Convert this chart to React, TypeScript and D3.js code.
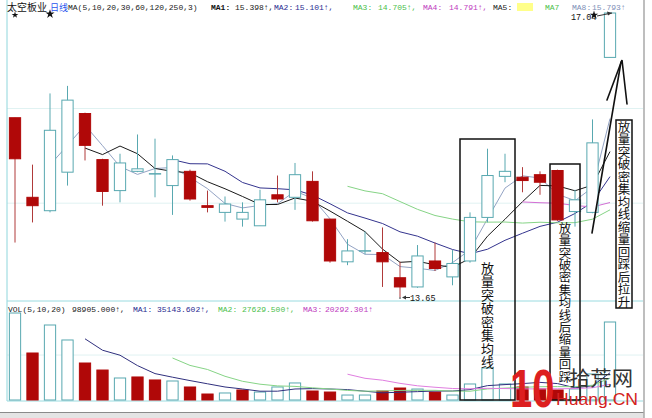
import React from 'react'
import * as d3 from 'd3'

// 日线 K 线数据
const opens = [15.79, 14.84, 14.68, 15.14, 15.84, 15.29, 14.92, 15.15, 15.12, 14.98, 15.15, 14.74, 14.66, 14.58, 14.5, 14.87, 14.84, 15.03, 14.58, 14.07, 14.2, 14.18, 13.88, 13.77, 14.08, 13.89, 14.08, 14.6, 15.09, 15.08, 15.11, 15.16, 14.67, 14.66, 16.51]
const highs = [15.79, 15.23, 16.08, 16.17, 15.85, 15.3, 15.36, 15.59, 15.54, 15.34, 15.17, 14.92, 14.85, 14.78, 14.93, 15.1, 15.25, 15.15, 14.58, 14.34, 14.43, 14.48, 14.07, 14.27, 14.3, 14.21, 14.66, 15.42, 15.36, 15.2, 15.15, 15.17, 14.93, 15.77, 17.04]
const lows = [14.3, 14.54, 14.66, 14.98, 15.28, 14.74, 14.78, 15.14, 14.84, 14.63, 14.8, 14.66, 14.55, 14.49, 14.5, 14.78, 14.69, 14.55, 14.06, 14.03, 14.16, 13.77, 13.65, 13.76, 13.96, 13.79, 14.06, 14.54, 15.02, 14.9, 14.87, 14.56, 14.49, 14.65, 16.51]
const closes = [15.3, 14.74, 15.64, 16.0, 15.46, 14.91, 15.25, 15.18, 15.12, 15.29, 14.82, 14.72, 14.76, 14.66, 14.81, 14.82, 15.11, 14.56, 14.08, 14.2, 14.2, 14.07, 13.77, 14.14, 13.99, 14.05, 14.6, 15.1, 15.15, 15.04, 15.02, 14.57, 14.81, 15.49, 17.04]
const volumes = [110300, 59600, 95100, 76100, 46900, 38000, 27900, 29200, 25400, 24100, 16500, 7600, 8900, 12700, 10100, 16500, 21600, 11400, 10100, 6300, 6300, 11400, 15200, 13900, 10100, 6300, 20300, 40600, 20300, 16500, 14000, 12700, 14000, 33000, 98905]

// 均线周期和颜色
const priceMaPeriods = [3, 5, 10, 20, 30]
const priceMaColors = ['#93a3c4', '#1a1a1a', '#34348e', '#86d486', '#d46ed4']
const volMaPeriods = [5, 10, 20]
const volMaColors = ['#30307e', '#86d486', '#e07ee0']

const priceGrid = [14.77, 15.9]
const volGrid = [57000]

const note1 = '放量突破密集均线'
const note2 = '放量突破密集均线后缩量回踩'
const note3 = '放量突破密集均线缩量回踩后拉升'

const W = 652
const H = 418
const CYAN = '#58a8b0'
const RED = '#b00808'
const MONO = '"Liberation Mono", "DejaVu Sans Mono", monospace'
const CJK = '"Noto Sans CJK SC", sans-serif'
const SANS = '"Liberation Sans", Arial, sans-serif'

const movingAverage = (vals: number[], n: number) =>
    vals.map((_, i) => (i < n - 1 ? null : (d3.mean(vals.slice(i - n + 1, i + 1)) as number)))

const App: React.FC = () => {
    const x = d3
        .scaleBand<number>()
        .domain(d3.range(closes.length))
        .range([6.25, 618.75])
        .paddingInner(0.3)
        .paddingOuter(0.15)
    const bw = x.bandwidth()
    const cx = (i: number) => (x(i) as number) + bw / 2

    const y = d3.scaleLinear().domain([13.65, 17.04]).range([297, 13])
    const yv = d3.scaleLinear().domain([0, 98905]).range([400, 322])

    const priceLine = d3
        .line<number | null>()
        .defined((d) => d != null)
        .x((_, i) => cx(i))
        .y((d) => y(d as number))
    const volLine = d3
        .line<number | null>()
        .defined((d) => d != null)
        .x((_, i) => cx(i))
        .y((d) => yv(d as number))

    // 竖排文字：一个 text 元素，竖排书写
    const vText = (txt: string, xc: number, firstCenter: number, step: number, size: number) => (
        <text
            x={xc}
            y={firstCenter - size / 2}
            fontFamily={CJK}
            fontSize={size}
            fill="#111"
            letterSpacing={step - size}
            style={{ writingMode: 'vertical-rl' }}
        >
            {txt}
        </text>
    )

    const star = d3.symbol().type(d3.symbolStar)

    return (
        <svg
            width={W}
            height={H}
            style={{ position: 'fixed', left: 0, top: 0, background: '#fff' }}
        >
            {/* 网格和边框 */}
            {priceGrid.map((p) => (
                <line key={'g' + p} x1={7} x2={643} y1={y(p)} y2={y(p)} stroke="#e0f2f2" />
            ))}
            {volGrid.map((v) => (
                <line key={'vg' + v} x1={7} x2={643} y1={yv(v)} y2={yv(v)} stroke="#e0f2f2" />
            ))}
            <line x1={7} x2={7} y1={0} y2={401} stroke="#8fd6dc" />
            <line x1={7} x2={643} y1={301} y2={301} stroke="#9adbe0" />
            <line x1={7} x2={643} y1={401} y2={401} stroke="#9adbe0" />
            <rect x={0} y={412} width={644} height={6} fill="#e4e4e4" />
            <line x1={0} x2={644} y1={412.5} y2={412.5} stroke="#8a8a8a" />
            <line x1={644} x2={644} y1={0} y2={H} stroke="#a8a8a8" strokeWidth={1.5} />

            {/* 均线 */}
            {priceMaPeriods.map((n, k) => (
                <path
                    key={'ma' + n}
                    d={priceLine(movingAverage(closes, n)) || ''}
                    fill="none"
                    stroke={priceMaColors[k]}
                    strokeWidth={1}
                />
            ))}

            {/* K 线 */}
            {closes.map((c, i) => {
                const o = opens[i]
                const up = c > o
                const down = c < o
                const col = down ? RED : CYAN
                const top = y(Math.max(o, c))
                const bot = y(Math.min(o, c))
                return (
                    <g key={'k' + i}>
                        <line
                            x1={cx(i)}
                            x2={cx(i)}
                            y1={y(highs[i])}
                            y2={y(lows[i])}
                            stroke={down ? '#b03a3a' : CYAN}
                        />
                        {up || down ? (
                            <rect
                                x={(x(i) as number) + 0.5}
                                y={top}
                                width={bw - 1}
                                height={Math.max(bot - top, 1.5)}
                                fill={down ? RED : '#fff'}
                                stroke={col}
                            />
                        ) : (
                            <line x1={x(i) as number} x2={(x(i) as number) + bw} y1={top} y2={top} stroke={CYAN} strokeWidth={1.5} />
                        )}
                    </g>
                )
            })}

            {/* 成交量 */}
            {volumes.map((v, i) => {
                const fall = i > 0 && closes[i] < closes[i - 1]
                return (
                    <rect
                        key={'v' + i}
                        x={(x(i) as number) + 0.5}
                        y={yv(v)}
                        width={bw - 1}
                        height={yv(0) - yv(v)}
                        fill={fall ? RED : '#fff'}
                        stroke={fall ? RED : CYAN}
                    />
                )
            })}
            {volMaPeriods.map((n, k) => (
                <path
                    key={'vma' + n}
                    d={volLine(movingAverage(volumes, n)) || ''}
                    fill="none"
                    stroke={volMaColors[k]}
                    strokeWidth={1}
                />
            ))}

            {/* 信息地雷 */}
            <path d={star.size(14)() || ''} transform={`translate(${cx(0)},15)`} fill="#111" />
            <path d={star.size(26)() || ''} transform={`translate(${cx(2)},14)`} fill="#111" />

            {/* 顶部标题 */}
            <g fontFamily={MONO} fontSize={8}>
                <text x={7} y={10.5} fontFamily={CJK} fontSize={10} fill="#111">太空板业</text>
                <text x={50} y={10.5} fontFamily={CJK} fontSize={9} fill="#2a55ee">日线</text>
                <text x={68} y={10} fill="#222">MA(5,10,20,30,60,120,250,3)</text>
                <text x={211} y={10} fill="#111" fontWeight="bold">MA1:</text>
                <text x={235} y={10} fill="#222">15.398↑,</text>
                <text x={274} y={10} fill="#2a2a90">MA2:</text>
                <text x={295} y={10} fill="#2a2a90">15.101↑,</text>
                <text x={353} y={10} fill="#4cc04c">MA3:</text>
                <text x={378} y={10} fill="#4cc04c">14.705↑,</text>
                <text x={423} y={10} fill="#c03cc0">MA4:</text>
                <text x={449} y={10} fill="#c03cc0">14.791↑,</text>
                <text x={493} y={10} fill="#222">MA5:</text>
                <rect x={517} y={3} width={16} height={8} fill="#ffff8a" />
                <text x={545} y={10} fill="#4cc04c">MA7</text>
                <text x={572} y={10} fill="#8090b8">MA8:</text>
                <text x={592} y={10} fill="#8090b8">15.793↑</text>
            </g>

            {/* 成交量标题 */}
            <g fontFamily={MONO} fontSize={8}>
                <text x={8} y={312} fill="#222">VOL(5,10,20)</text>
                <text x={72} y={312} fill="#222">98905.000↑,</text>
                <text x={133} y={312} fill="#2a2a90">MA1:</text>
                <text x={157} y={312} fill="#2a2a90">35143.602↑,</text>
                <text x={218} y={312} fill="#4cc04c">MA2:</text>
                <text x={242} y={312} fill="#4cc04c">27629.500↑,</text>
                <text x={303} y={312} fill="#c03cc0">MA3:</text>
                <text x={325} y={312} fill="#c03cc0">20292.301↑</text>
            </g>

            {/* 最高 / 最低价标注 */}
            <g fontFamily={MONO} fontSize={8.5} fill="#111">
                <text x={571} y={20}>17.04</text>
                <line x1={597} x2={cx(34) + 2} y1={16} y2={y(highs[34])} stroke="#333" />
                <path d={`M${cx(34) + 2},${y(highs[34])} l-5,-1.5 l1,4 z`} fill="#333" />
                <path d={star.size(22)() || ''} transform="translate(594,15)" fill="#111" />
                <line x1={cx(22)} x2={cx(22)} y1={y(lows[22])} y2={y(lows[22]) + 2} stroke="#333" />
                <line x1={403} x2={410} y1={y(lows[22]) + 0.5} y2={y(lows[22]) + 0.5} stroke="#333" />
                <path d={`M402,${y(lows[22]) + 0.5} l4,-2 l0,4 z`} fill="#333" />
                <text x={410} y={y(lows[22]) + 3.5}>13.65</text>
            </g>

            {/* 标注框 */}
            <rect x={460} y={139} width={55} height={261} fill="none" stroke="#111" strokeWidth={1.5} />
            {vText(note1, 487.5, 268, 13.5, 13)}
            <rect x={550} y={164} width={30} height={236} fill="none" stroke="#111" strokeWidth={1.5} />
            {vText(note2, 565, 228, 12.4, 12.4)}
            <rect x={616} y={120} width={16} height={188} fill="#fff" stroke="#111" strokeWidth={1.5} />
            {vText(note3, 624, 127, 12.5, 12.5)}

            {/* 手绘箭头 */}
            <g fill="none" stroke="#111" strokeWidth={1.6} strokeLinecap="round">
                <path d="M592,233 L621,62" />
                <path d="M607,100 L622,60 L627,104" />
            </g>

            {/* 水印 */}
            <text transform="translate(510,407) scale(1,1.35)" fontFamily={SANS} fontSize={40} fontWeight="bold" fill="#dd1f1f">10</text>
            <text x={569} y={386} fontFamily={CJK} fontSize={20} fill="#333" textLength={64} lengthAdjust="spacingAndGlyphs">拾荒网</text>
            <text x={556} y={405} fontFamily={SANS} fontSize={17} fill="#d42020" textLength={82} lengthAdjust="spacingAndGlyphs">Huang.CN</text>
        </svg>
    )
}

export default App
